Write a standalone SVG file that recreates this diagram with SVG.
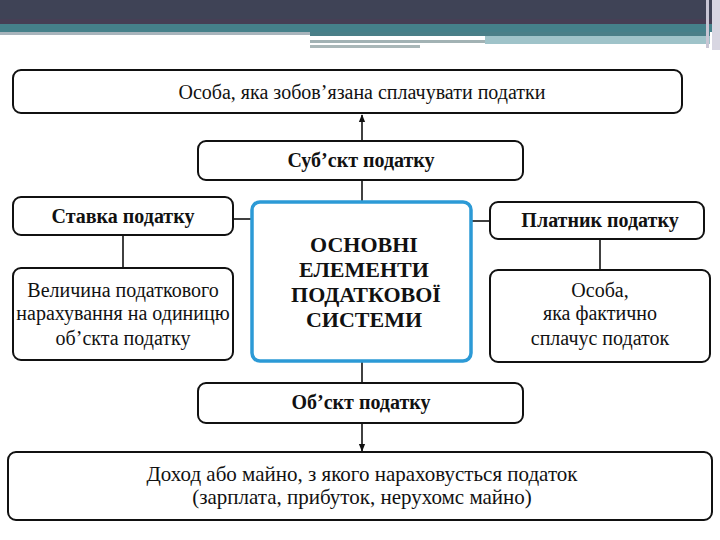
<svg xmlns="http://www.w3.org/2000/svg" width="720" height="540" viewBox="0 0 720 540">
<defs>
<marker id="ah" viewBox="0 0 10 10" refX="9" refY="5" markerWidth="8" markerHeight="8" markerUnits="userSpaceOnUse" orient="auto">
<path d="M0,1 L10,5 L0,9 Z" fill="#111"/>
</marker>
<style>
.box{fill:#fff;stroke:#111;stroke-width:2}
.core{fill:#fff;stroke:#2c9ad6;stroke-width:3.5}
.t{font-family:"Liberation Serif","Times New Roman",serif;fill:#111;text-anchor:middle}
.n{font-size:20px}
.w{font-size:21px}
.b{font-size:20px;font-weight:bold}
.c{font-size:22px;font-weight:bold}
.ln{stroke:#111;stroke-width:1.6;fill:none}
</style>
</defs>
<rect width="720" height="540" fill="#fff"/>
<g id="header">
<rect x="0" y="0" width="720" height="24" fill="#3f4356"/>
<rect x="0" y="19" width="720" height="5" fill="#463f55"/>
<rect x="0" y="24" width="720" height="8" fill="#45808a"/>
<rect x="0" y="32" width="310" height="3" fill="#a8b4bc"/>
<rect x="310" y="32" width="400" height="4" fill="#4a7f88"/>
<rect x="310" y="36" width="175" height="3" fill="#ffffff"/>
<rect x="310" y="40" width="175" height="3" fill="#a2b2b4"/>
<rect x="310" y="45" width="110" height="3" fill="#a9b7b8"/>
<rect x="485" y="36" width="225" height="8" fill="#9fc3c9"/>
<rect x="706" y="0" width="3" height="48" fill="#c8c6d4"/>
<rect x="712" y="0" width="8" height="50" fill="#d8d6e2"/>
</g>
<g id="connectors">
<line class="ln" x1="362" y1="141" x2="362" y2="115" marker-end="url(#ah)"/>
<line class="ln" x1="362" y1="180" x2="362" y2="202"/>
<line class="ln" x1="233" y1="219" x2="252" y2="219"/>
<line class="ln" x1="471" y1="221" x2="490" y2="221"/>
<line class="ln" x1="123" y1="235" x2="123" y2="268"/>
<line class="ln" x1="600" y1="239" x2="600" y2="270"/>
<line class="ln" x1="362" y1="361" x2="362" y2="383"/>
<line class="ln" x1="362" y1="423" x2="362" y2="451" marker-end="url(#ah)"/>
</g>
<g id="payer-obligated">
<rect class="box" x="13" y="70" width="669" height="43" rx="8"/>
<text class="t n" x="362" y="99">Особа, яка зобов’язана сплачувати податки</text>
</g>
<g id="subject">
<rect class="box" x="198" y="141" width="325" height="39" rx="8"/>
<text class="t b" x="361" y="167">Суб’скт податку</text>
</g>
<g id="core">
<rect class="core" x="252" y="202" width="219" height="159" rx="8"/>
<text class="t c" x="364" y="252">ОСНОВНІ</text>
<text class="t c" x="364" y="277">ЕЛЕМЕНТИ</text>
<text class="t c" x="366" y="302">ПОДАТКОВОЇ</text>
<text class="t c" x="364" y="327">СИСТЕМИ</text>
</g>
<g id="rate">
<rect class="box" x="13" y="197" width="220" height="38" rx="8"/>
<text class="t b" x="123" y="223">Ставка податку</text>
</g>
<g id="rate-desc">
<rect class="box" x="13" y="268" width="220" height="92" rx="8"/>
<text class="t n" x="123" y="297">Величина податкового</text>
<text class="t n" x="123" y="320">нарахування на одиницю</text>
<text class="t n" x="123" y="345">об’скта податку</text>
</g>
<g id="payer">
<rect class="box" x="490" y="202" width="214" height="37" rx="8"/>
<text class="t b" x="600" y="227">Платник податку</text>
</g>
<g id="payer-desc">
<rect class="box" x="490" y="270" width="220" height="92" rx="8"/>
<text class="t n" x="600" y="297">Особа,</text>
<text class="t n" x="600" y="320">яка фактично</text>
<text class="t n" x="600" y="345">сплачус податок</text>
</g>
<g id="object">
<rect class="box" x="198" y="383" width="325" height="40" rx="8"/>
<text class="t b" x="361" y="409">Об’скт податку</text>
</g>
<g id="object-desc">
<rect class="box" x="8" y="452" width="704" height="68" rx="8"/>
<text class="t w" x="362" y="481">Доход або майно, з якого нараховусться податок</text>
<text class="t w" x="362" y="504">(зарплата, прибуток, нерухомс майно)</text>
</g>
</svg>
